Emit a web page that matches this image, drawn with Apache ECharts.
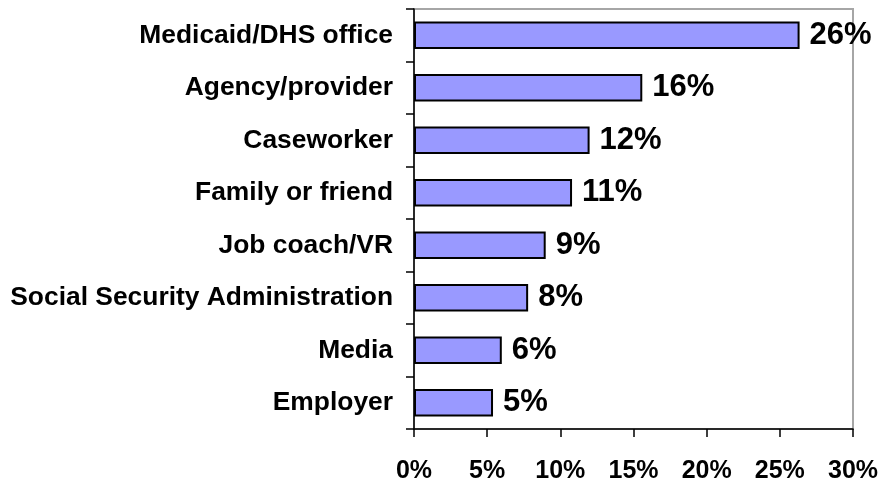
<!DOCTYPE html>
<html>
<head>
<meta charset="utf-8">
<script src="https://cdn.jsdelivr.net/npm/echarts@6/dist/echarts.min.js"></script>
<style>
  html, body { margin: 0; padding: 0; background: #fff; }
  #chart { width: 883px; height: 484px; }
</style>
</head>
<body>
<div id="chart"></div>
<script>
// where people heard about it, top to bottom
const categories = [
    'Medicaid/DHS office', 'Agency/provider', 'Caseworker', 'Family or friend',
    'Job coach/VR', 'Social Security Administration', 'Media', 'Employer'
]
// bar lengths (percent)
const shares = [26.35, 15.6, 12.0, 10.8, 9.0, 7.8, 6.0, 5.4]
// labels printed next to bars
const shareLabels = ['26%', '16%', '12%', '11%', '9%', '8%', '6%', '5%']

const font = 'Arial, "Liberation Sans", sans-serif'

let chart = echarts.init(document.getElementById('chart'))
let option = {
    animation: false,
    grid: {
        left: 414,
        right: 30,
        top: 9,
        bottom: 53,
        show: true,
        borderColor: '#a6a6a6',
        borderWidth: 2
    },
    xAxis: {
        type: 'value',
        min: 0,
        max: 30,
        interval: 5,
        splitLine: { show: false },
        axisLine: { show: true, lineStyle: { color: '#000', width: 1.5 } },
        axisTick: { show: true, length: 8, lineStyle: { color: '#000', width: 1.5 } },
        axisLabel: {
            formatter: '{value}%',
            color: '#000',
            fontFamily: font,
            fontWeight: 'bold',
            fontSize: 25,
            margin: 30
        }
    },
    yAxis: {
        type: 'category',
        inverse: true,
        data: categories,
        axisLine: { show: true, lineStyle: { color: '#000', width: 1.5 } },
        axisTick: { show: true, length: 8, lineStyle: { color: '#000', width: 1.5 } },
        axisLabel: {
            color: '#000',
            fontFamily: font,
            fontWeight: 'bold',
            fontSize: 26.4,
            margin: 21
        }
    },
    series: [{
        type: 'bar',
        data: shares,
        barCategoryGap: '48%',
        itemStyle: {
            color: '#9999ff',
            borderColor: '#000',
            borderWidth: 2
        },
        label: {
            show: true,
            position: 'right',
            distance: 10,
            color: '#000',
            fontFamily: font,
            fontWeight: 'bold',
            fontSize: 31,
            formatter: p => shareLabels[p.dataIndex]
        }
    }]
}
chart.setOption(option)
</script>
</body>
</html>
